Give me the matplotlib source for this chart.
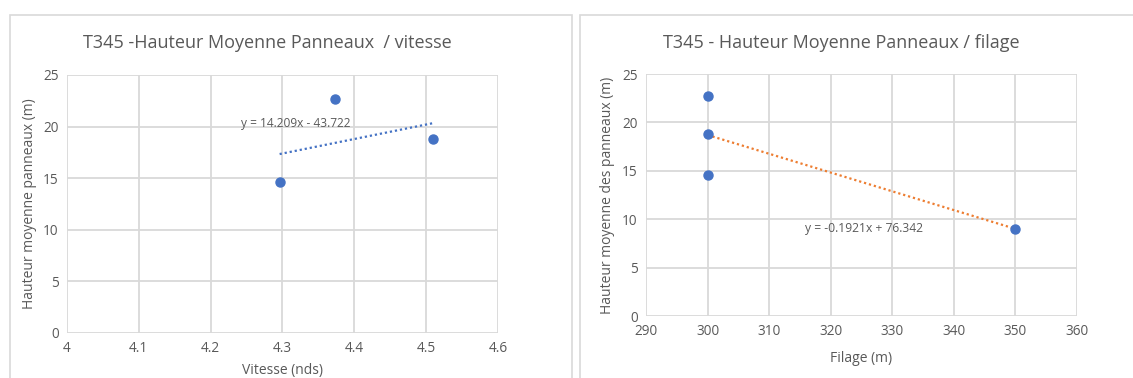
import matplotlib
matplotlib.use("Agg")
import matplotlib.pyplot as plt
from matplotlib.patches import Rectangle
import numpy as np

plt.rcParams['font.family'] = ['Open Sans', 'DejaVu Sans']

# Data
vitesse = [4.296, 4.373, 4.51]
hauteur_v = [14.6, 22.7, 18.8]
filage = [300, 300, 300, 350]
hauteur_f = [22.7, 18.8, 14.6, 9.0]
eq_left = "y = 14.209x - 43.722"
eq_right = "y = -0.1921x + 76.342"
title_left = "T345 -Hauteur Moyenne Panneaux  / vitesse"
title_right = "T345 - Hauteur Moyenne Panneaux / filage"

W, H = 1133, 378
fig = plt.figure(figsize=(W/100, H/100), dpi=100)
fig.patch.set_facecolor('white')

def px(x0, y0, x1, y1):
    return [x0/W, 1 - y1/H, (x1-x0)/W, (y1-y0)/H]

# panel borders
for (x0, x1) in [(10, 572), (580, 1140)]:
    fig.patches.append(Rectangle((x0/W, -0.1), (x1-x0)/W, 1 - 15/H + 0.1,
                                 transform=fig.transFigure, fill=False,
                                 edgecolor='#D9D9D9', linewidth=1.2))

grey = '#595959'
gridc = '#D9D9D9'
blue = '#4472C4'
orange = '#ED7D31'

def style(ax):
    for s in ax.spines.values():
        s.set_visible(False)
    ax.grid(True, color=gridc, linewidth=1.3)
    ax.set_axisbelow(True)
    ax.tick_params(length=0, colors=grey, labelsize=9.8, pad=6)
    ax.set_facecolor('none')

# Left
ax1 = fig.add_axes(px(67, 75, 498, 333))
ax1.set_xlim(4, 4.6)
ax1.set_ylim(0, 25)
ax1.set_xticks(np.arange(4, 4.61, 0.1))
ax1.set_xticklabels(['4', '4.1', '4.2', '4.3', '4.4', '4.5', '4.6'])
ax1.set_yticks(range(0, 26, 5))
style(ax1)
xv = np.array(vitesse)
coef1 = np.polyfit(xv, hauteur_v, 1)
xt = np.array([min(vitesse), max(vitesse)])
ax1.plot(xt, np.polyval(coef1, xt), linestyle=(0, (1, 1.3)), color=blue, linewidth=1.6)
ax1.plot(vitesse, hauteur_v, 'o', color=blue, markersize=6.5, zorder=3)
ax1.text(4.242, 20.3, eq_left, color=grey, fontsize=8.6, va='center', ha='left')
fig.text(267/W, 1 - 43/H, title_left, color=grey, fontsize=13, ha='center', va='center')
ax1.set_xlabel("Vitesse (nds)", color=grey, fontsize=10)
ax1.xaxis.set_label_coords(0.5, -(363 - 333) / 258)
ax1.set_ylabel("Hauteur moyenne panneaux (m)", color=grey, fontsize=10)
ax1.yaxis.set_label_coords((37 - 67) / 431, 0.5)

# Right
ax2 = fig.add_axes(px(646, 74, 1077, 316))
ax2.set_xlim(290, 360)
ax2.set_ylim(0, 25)
ax2.set_xticks(range(290, 361, 10))
ax2.set_yticks(range(0, 26, 5))
style(ax2)
coef2 = np.polyfit(filage, hauteur_f, 1)
xt2 = np.array([min(filage), max(filage)])
ax2.plot(xt2, np.polyval(coef2, xt2), linestyle=(0, (1, 1.3)), color=orange, linewidth=1.6)
ax2.plot(filage, hauteur_f, 'o', color=blue, markersize=6.5, zorder=3)
ax2.text(315.8, 9.0, eq_right, color=grey, fontsize=8.7, va='center', ha='left')
fig.text(841/W, 1 - 43/H, title_right, color=grey, fontsize=13, ha='center', va='center')
ax2.set_xlabel("Filage (m)", color=grey, fontsize=10)
ax2.xaxis.set_label_coords(0.5, -(351 - 316) / 242)
ax2.set_ylabel("Hauteur moyenne des panneaux (m)", color=grey, fontsize=10)
ax2.yaxis.set_label_coords((615 - 646) / 431, 0.5)

fig.savefig("out.png", dpi=100)
